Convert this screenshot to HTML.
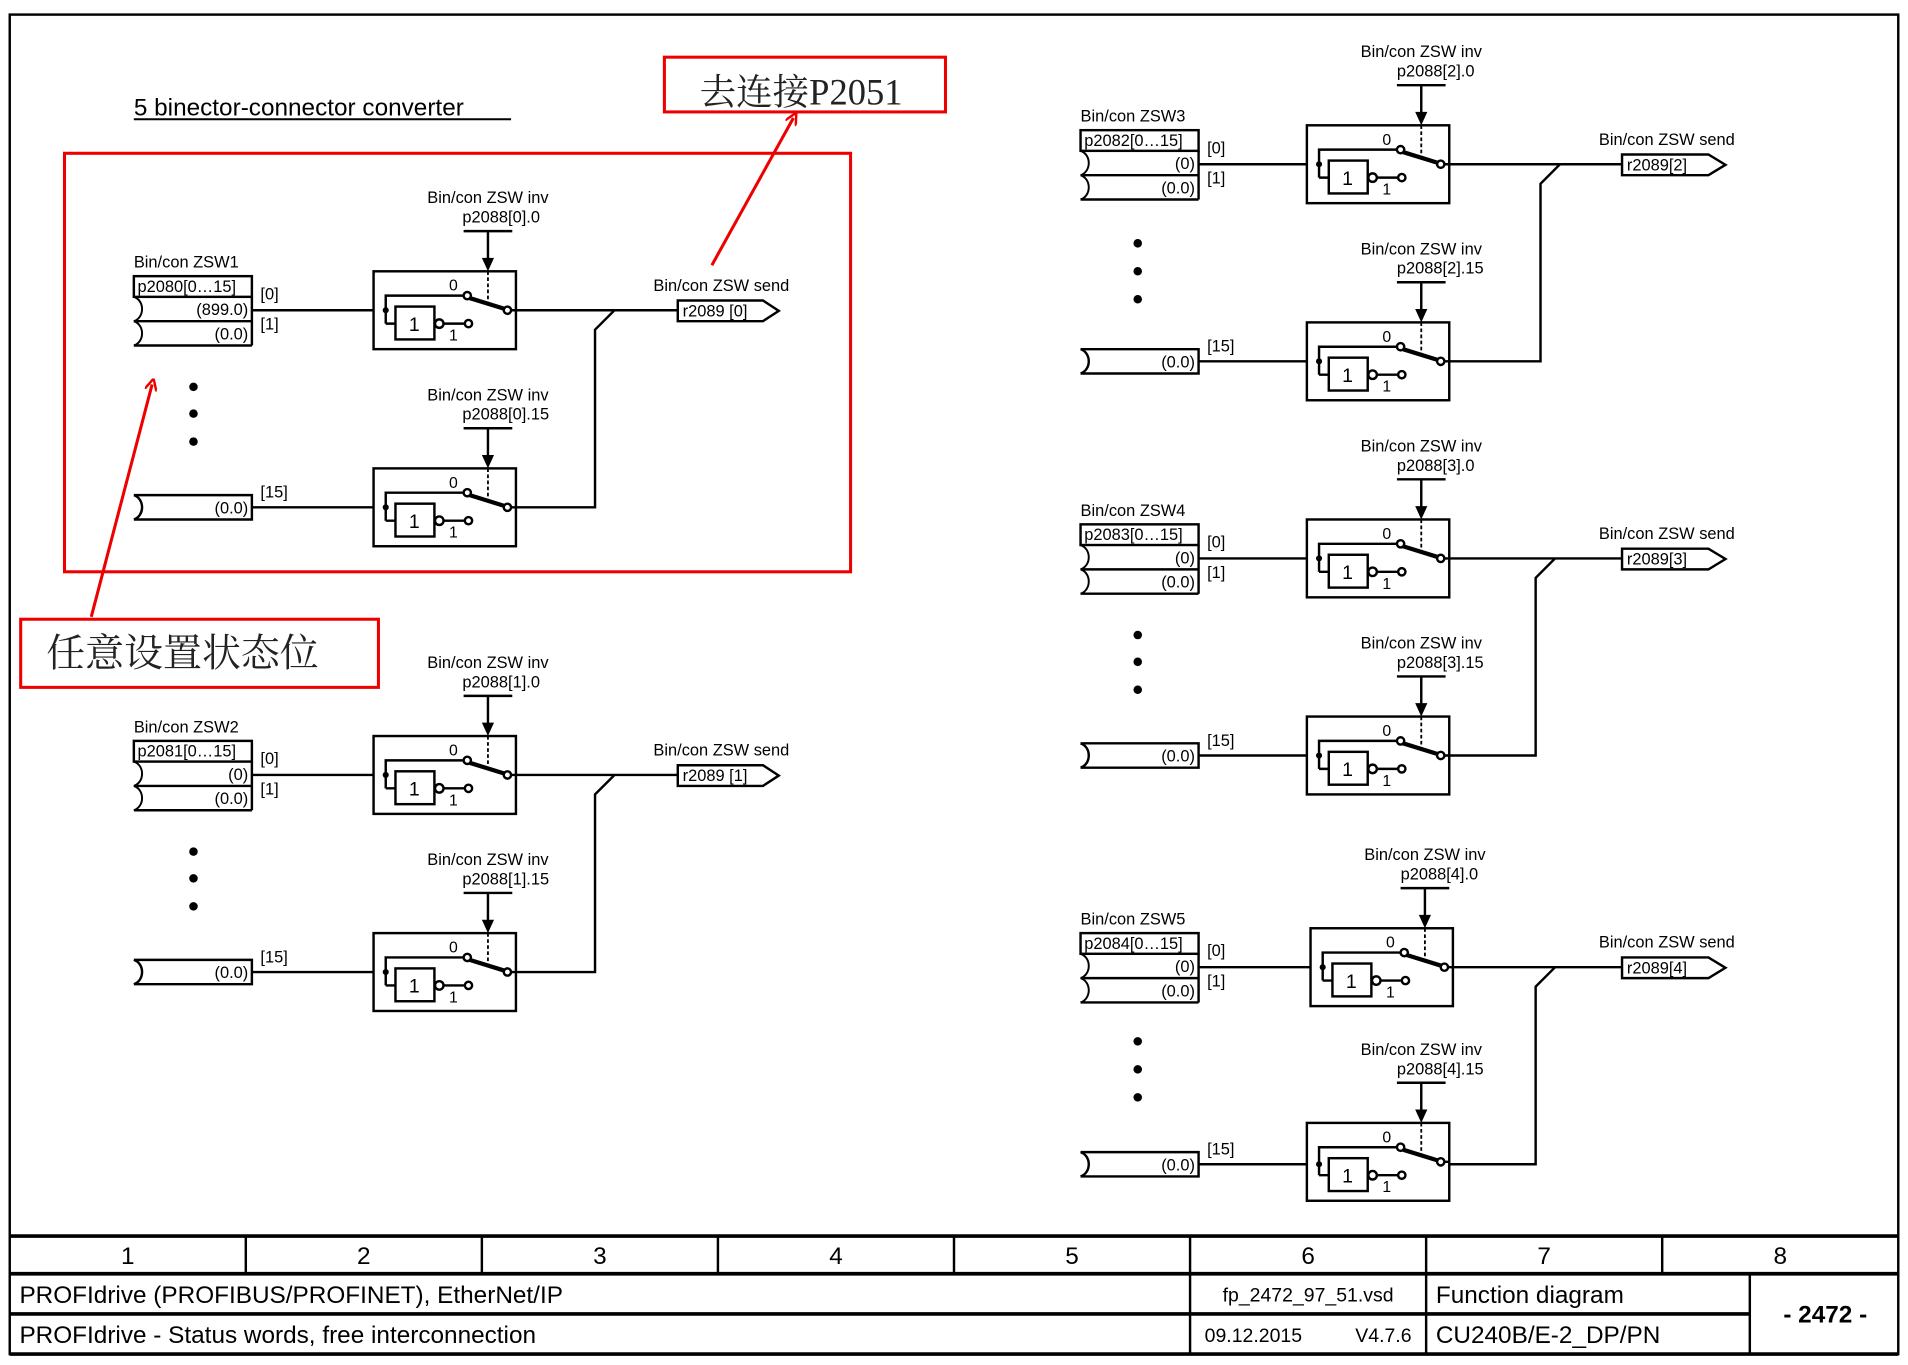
<!DOCTYPE html>
<html><head><meta charset="utf-8"><style>
html,body{margin:0;padding:0;background:#fff;}
svg{display:block;}
text{font-family:"Liberation Sans",sans-serif;fill:#000;}
.s{font-size:13.5px;}
.r{font-size:13.5px;text-anchor:end;}
.cj{font-family:"Liberation Serif","Noto Serif CJK SC",serif;fill:#222;}
</style></head><body>
<svg width="1908" height="1365" viewBox="0 0 1568 1122" preserveAspectRatio="none" xmlns="http://www.w3.org/2000/svg">
<defs>
<marker id="ah" markerWidth="10" markerHeight="10" refX="5" refY="5" orient="auto" markerUnits="userSpaceOnUse"><path d="M0,0 L10,5 L0,10" fill="none" stroke="#e00" stroke-width="2"/></marker>
</defs>
<g fill="none" stroke="#000" stroke-width="2">
<rect x="8" y="12" width="1552" height="1101"/>
</g>

<!-- title -->
<text x="110" y="95" style="font-size:20px">5 binector-connector converter</text>
<line x1="110" y1="98" x2="420" y2="98" stroke="#000" stroke-width="1.6"/>

<!-- ===== Module macro expanded ===== -->
<!-- M1 ix=110 iy=227 sx=307 mx=489 ox=557 -->
<g id="m1">
<text class="s" x="110" y="220">Bin/con ZSW1</text>
<g transform="translate(110,227)" fill="none" stroke="#000" stroke-width="2">
<rect x="0" y="0" width="97" height="17"/>
<path d="M0,37 H97 M0,57 H97 M97,17 V57"/>
<path d="M0,17 C9,20 9,34 0,37 M0,37 C9,40 9,54 0,57" stroke-width="1.6"/>
</g>
<text class="s" x="113" y="240">p2080[0…15]</text>
<text class="r" x="204" y="259">(899.0)</text>
<text class="r" x="204" y="279">(0.0)</text>
<text class="s" x="214" y="246">[0]</text>
<text class="s" x="214" y="271">[1]</text>
<circle cx="159" cy="318" r="3.5"/><circle cx="159" cy="340" r="3.5"/><circle cx="159" cy="363" r="3.5"/>
<g fill="none" stroke="#000" stroke-width="2">
<path d="M110,407 H207 V427 H110 M110,407 C119,410 119,424 110,427" />
<path d="M207,255 H307 M207,417 H307 M424,255 H557 M505,255 L489,271 V417 H424"/>
<path d="M557,247 H627 L640,255.5 L627,264 H557 Z"/>
</g>
<text class="r" x="204" y="422">(0.0)</text>
<text class="s" x="214" y="409">[15]</text>
<text class="s" x="561" y="260">r2089 [0]</text>
<text class="s" x="537" y="239">Bin/con ZSW send</text>
</g>

<!-- switch template used repeatedly -->
<g transform="translate(307,223)">
<g fill="none" stroke="#000" stroke-width="2"><rect x="0" y="0" width="117" height="64"/>
<path d="M10,43 V20 H74 M10,43 H18 M57,43 H75 M113,32 H117 M74,-33 H114 M94,-33 V-9"/>
<rect x="18" y="29" width="32" height="27"/>
<circle cx="54" cy="43" r="3.5"/><circle cx="77" cy="20" r="3"/><circle cx="78" cy="43" r="3"/><circle cx="110" cy="32" r="3"/>
<path d="M79,22 L108,31" stroke-width="3.5"/>
<path d="M94,0 V26" stroke-width="1.5" stroke-dasharray="3,2"/></g>
<circle cx="10" cy="32" r="2.5"/><path d="M94,0 L89,-11 L99,-11 Z"/>
<text x="29" y="49" style="font-size:16px">1</text><text x="62" y="16" style="font-size:13px">0</text><text x="62" y="57" style="font-size:13px">1</text>
<text class="s" x="94" y="-56" text-anchor="middle">Bin/con ZSW inv</text><text class="s" x="73" y="-40">p2088[0].0</text>
</g>
<g transform="translate(307,385)">
<g fill="none" stroke="#000" stroke-width="2"><rect x="0" y="0" width="117" height="64"/>
<path d="M10,43 V20 H74 M10,43 H18 M57,43 H75 M113,32 H117 M74,-33 H114 M94,-33 V-9"/>
<rect x="18" y="29" width="32" height="27"/>
<circle cx="54" cy="43" r="3.5"/><circle cx="77" cy="20" r="3"/><circle cx="78" cy="43" r="3"/><circle cx="110" cy="32" r="3"/>
<path d="M79,22 L108,31" stroke-width="3.5"/>
<path d="M94,0 V26" stroke-width="1.5" stroke-dasharray="3,2"/></g>
<circle cx="10" cy="32" r="2.5"/><path d="M94,0 L89,-11 L99,-11 Z"/>
<text x="29" y="49" style="font-size:16px">1</text><text x="62" y="16" style="font-size:13px">0</text><text x="62" y="57" style="font-size:13px">1</text>
<text class="s" x="94" y="-56" text-anchor="middle">Bin/con ZSW inv</text><text class="s" x="73" y="-40">p2088[0].15</text>
</g>

<!-- M2 iy=609 -->
<g transform="translate(0,382)">
<text class="s" x="110" y="220">Bin/con ZSW2</text>
<g transform="translate(110,227)" fill="none" stroke="#000" stroke-width="2">
<rect x="0" y="0" width="97" height="17"/>
<path d="M0,37 H97 M0,57 H97 M97,17 V57"/>
<path d="M0,17 C9,20 9,34 0,37 M0,37 C9,40 9,54 0,57" stroke-width="1.6"/>
</g>
<text class="s" x="113" y="240">p2081[0…15]</text>
<text class="r" x="204" y="259">(0)</text>
<text class="r" x="204" y="279">(0.0)</text>
<text class="s" x="214" y="246">[0]</text>
<text class="s" x="214" y="271">[1]</text>
<circle cx="159" cy="318" r="3.5"/><circle cx="159" cy="340" r="3.5"/><circle cx="159" cy="363" r="3.5"/>
<g fill="none" stroke="#000" stroke-width="2">
<path d="M110,407 H207 V427 H110 M110,407 C119,410 119,424 110,427" />
<path d="M207,255 H307 M207,417 H307 M424,255 H557 M505,255 L489,271 V417 H424"/>
<path d="M557,247 H627 L640,255.5 L627,264 H557 Z"/>
</g>
<text class="r" x="204" y="422">(0.0)</text>
<text class="s" x="214" y="409">[15]</text>
<text class="s" x="561" y="260">r2089 [1]</text>
<text class="s" x="537" y="239">Bin/con ZSW send</text>
<g transform="translate(307,223)">
<g fill="none" stroke="#000" stroke-width="2"><rect x="0" y="0" width="117" height="64"/>
<path d="M10,43 V20 H74 M10,43 H18 M57,43 H75 M113,32 H117 M74,-33 H114 M94,-33 V-9"/>
<rect x="18" y="29" width="32" height="27"/>
<circle cx="54" cy="43" r="3.5"/><circle cx="77" cy="20" r="3"/><circle cx="78" cy="43" r="3"/><circle cx="110" cy="32" r="3"/>
<path d="M79,22 L108,31" stroke-width="3.5"/>
<path d="M94,0 V26" stroke-width="1.5" stroke-dasharray="3,2"/></g>
<circle cx="10" cy="32" r="2.5"/><path d="M94,0 L89,-11 L99,-11 Z"/>
<text x="29" y="49" style="font-size:16px">1</text><text x="62" y="16" style="font-size:13px">0</text><text x="62" y="57" style="font-size:13px">1</text>
<text class="s" x="94" y="-56" text-anchor="middle">Bin/con ZSW inv</text><text class="s" x="73" y="-40">p2088[1].0</text>
</g>
<g transform="translate(307,385)">
<g fill="none" stroke="#000" stroke-width="2"><rect x="0" y="0" width="117" height="64"/>
<path d="M10,43 V20 H74 M10,43 H18 M57,43 H75 M113,32 H117 M74,-33 H114 M94,-33 V-9"/>
<rect x="18" y="29" width="32" height="27"/>
<circle cx="54" cy="43" r="3.5"/><circle cx="77" cy="20" r="3"/><circle cx="78" cy="43" r="3"/><circle cx="110" cy="32" r="3"/>
<path d="M79,22 L108,31" stroke-width="3.5"/>
<path d="M94,0 V26" stroke-width="1.5" stroke-dasharray="3,2"/></g>
<circle cx="10" cy="32" r="2.5"/><path d="M94,0 L89,-11 L99,-11 Z"/>
<text x="29" y="49" style="font-size:16px">1</text><text x="62" y="16" style="font-size:13px">0</text><text x="62" y="57" style="font-size:13px">1</text>
<text class="s" x="94" y="-56" text-anchor="middle">Bin/con ZSW inv</text><text class="s" x="73" y="-40">p2088[1].15</text>
</g>
</g>

<!-- Right modules: shift dx=778 for inputs; switches at 1074 -->
<!-- M3 dy=-120 -->
<g transform="translate(778,-120)">
<text class="s" x="110" y="220">Bin/con ZSW3</text>
<g transform="translate(110,227)" fill="none" stroke="#000" stroke-width="2">
<rect x="0" y="0" width="97" height="17"/>
<path d="M0,37 H97 M0,57 H97 M97,17 V57"/>
<path d="M0,17 C9,20 9,34 0,37 M0,37 C9,40 9,54 0,57" stroke-width="1.6"/>
</g>
<text class="s" x="113" y="240">p2082[0…15]</text>
<text class="r" x="204" y="259">(0)</text>
<text class="r" x="204" y="279">(0.0)</text>
<text class="s" x="214" y="246">[0]</text>
<text class="s" x="214" y="271">[1]</text>
<circle cx="157" cy="320" r="3.5"/><circle cx="157" cy="343" r="3.5"/><circle cx="157" cy="366" r="3.5"/>
<g fill="none" stroke="#000" stroke-width="2">
<path d="M110,407 H207 V427 H110 M110,407 C119,410 119,424 110,427" />
<path d="M207,255 H296 M207,417 H296 M413,255 H555 M504,255 L488,271 V417 H413"/>
<path d="M555,247 H626 L640,255.5 L626,264 H555 Z"/>
</g>
<text class="r" x="204" y="422">(0.0)</text>
<text class="s" x="214" y="409">[15]</text>
<text class="s" x="559" y="260">r2089[2]</text>
<text class="s" x="536" y="239">Bin/con ZSW send</text>
<g transform="translate(296,223)">
<g fill="none" stroke="#000" stroke-width="2"><rect x="0" y="0" width="117" height="64"/>
<path d="M10,43 V20 H74 M10,43 H18 M57,43 H75 M113,32 H117 M74,-33 H114 M94,-33 V-9"/>
<rect x="18" y="29" width="32" height="27"/>
<circle cx="54" cy="43" r="3.5"/><circle cx="77" cy="20" r="3"/><circle cx="78" cy="43" r="3"/><circle cx="110" cy="32" r="3"/>
<path d="M79,22 L108,31" stroke-width="3.5"/>
<path d="M94,0 V26" stroke-width="1.5" stroke-dasharray="3,2"/></g>
<circle cx="10" cy="32" r="2.5"/><path d="M94,0 L89,-11 L99,-11 Z"/>
<text x="29" y="49" style="font-size:16px">1</text><text x="62" y="16" style="font-size:13px">0</text><text x="62" y="57" style="font-size:13px">1</text>
<text class="s" x="94" y="-56" text-anchor="middle">Bin/con ZSW inv</text><text class="s" x="74" y="-40">p2088[2].0</text>
</g>
<g transform="translate(296,385)">
<g fill="none" stroke="#000" stroke-width="2"><rect x="0" y="0" width="117" height="64"/>
<path d="M10,43 V20 H74 M10,43 H18 M57,43 H75 M113,32 H117 M74,-33 H114 M94,-33 V-9"/>
<rect x="18" y="29" width="32" height="27"/>
<circle cx="54" cy="43" r="3.5"/><circle cx="77" cy="20" r="3"/><circle cx="78" cy="43" r="3"/><circle cx="110" cy="32" r="3"/>
<path d="M79,22 L108,31" stroke-width="3.5"/>
<path d="M94,0 V26" stroke-width="1.5" stroke-dasharray="3,2"/></g>
<circle cx="10" cy="32" r="2.5"/><path d="M94,0 L89,-11 L99,-11 Z"/>
<text x="29" y="49" style="font-size:16px">1</text><text x="62" y="16" style="font-size:13px">0</text><text x="62" y="57" style="font-size:13px">1</text>
<text class="s" x="94" y="-56" text-anchor="middle">Bin/con ZSW inv</text><text class="s" x="74" y="-40">p2088[2].15</text>
</g>
</g>

<!-- M4 dy=+204 -->
<g transform="translate(778,204)">
<text class="s" x="110" y="220">Bin/con ZSW4</text>
<g transform="translate(110,227)" fill="none" stroke="#000" stroke-width="2">
<rect x="0" y="0" width="97" height="17"/>
<path d="M0,37 H97 M0,57 H97 M97,17 V57"/>
<path d="M0,17 C9,20 9,34 0,37 M0,37 C9,40 9,54 0,57" stroke-width="1.6"/>
</g>
<text class="s" x="113" y="240">p2083[0…15]</text>
<text class="r" x="204" y="259">(0)</text>
<text class="r" x="204" y="279">(0.0)</text>
<text class="s" x="214" y="246">[0]</text>
<text class="s" x="214" y="271">[1]</text>
<circle cx="157" cy="318" r="3.5"/><circle cx="157" cy="340" r="3.5"/><circle cx="157" cy="363" r="3.5"/>
<g fill="none" stroke="#000" stroke-width="2">
<path d="M110,407 H207 V427 H110 M110,407 C119,410 119,424 110,427" />
<path d="M207,255 H296 M207,417 H296 M413,255 H555 M500,255 L484,271 V417 H413"/>
<path d="M555,247 H626 L640,255.5 L626,264 H555 Z"/>
</g>
<text class="r" x="204" y="422">(0.0)</text>
<text class="s" x="214" y="409">[15]</text>
<text class="s" x="559" y="260">r2089[3]</text>
<text class="s" x="536" y="239">Bin/con ZSW send</text>
<g transform="translate(296,223)">
<g fill="none" stroke="#000" stroke-width="2"><rect x="0" y="0" width="117" height="64"/>
<path d="M10,43 V20 H74 M10,43 H18 M57,43 H75 M113,32 H117 M74,-33 H114 M94,-33 V-9"/>
<rect x="18" y="29" width="32" height="27"/>
<circle cx="54" cy="43" r="3.5"/><circle cx="77" cy="20" r="3"/><circle cx="78" cy="43" r="3"/><circle cx="110" cy="32" r="3"/>
<path d="M79,22 L108,31" stroke-width="3.5"/>
<path d="M94,0 V26" stroke-width="1.5" stroke-dasharray="3,2"/></g>
<circle cx="10" cy="32" r="2.5"/><path d="M94,0 L89,-11 L99,-11 Z"/>
<text x="29" y="49" style="font-size:16px">1</text><text x="62" y="16" style="font-size:13px">0</text><text x="62" y="57" style="font-size:13px">1</text>
<text class="s" x="94" y="-56" text-anchor="middle">Bin/con ZSW inv</text><text class="s" x="74" y="-40">p2088[3].0</text>
</g>
<g transform="translate(296,385)">
<g fill="none" stroke="#000" stroke-width="2"><rect x="0" y="0" width="117" height="64"/>
<path d="M10,43 V20 H74 M10,43 H18 M57,43 H75 M113,32 H117 M74,-33 H114 M94,-33 V-9"/>
<rect x="18" y="29" width="32" height="27"/>
<circle cx="54" cy="43" r="3.5"/><circle cx="77" cy="20" r="3"/><circle cx="78" cy="43" r="3"/><circle cx="110" cy="32" r="3"/>
<path d="M79,22 L108,31" stroke-width="3.5"/>
<path d="M94,0 V26" stroke-width="1.5" stroke-dasharray="3,2"/></g>
<circle cx="10" cy="32" r="2.5"/><path d="M94,0 L89,-11 L99,-11 Z"/>
<text x="29" y="49" style="font-size:16px">1</text><text x="62" y="16" style="font-size:13px">0</text><text x="62" y="57" style="font-size:13px">1</text>
<text class="s" x="94" y="-56" text-anchor="middle">Bin/con ZSW inv</text><text class="s" x="74" y="-40">p2088[3].15</text>
</g>
</g>

<!-- M5 dy=+540 -->
<g transform="translate(778,540)">
<text class="s" x="110" y="220">Bin/con ZSW5</text>
<g transform="translate(110,227)" fill="none" stroke="#000" stroke-width="2">
<rect x="0" y="0" width="97" height="17"/>
<path d="M0,37 H97 M0,57 H97 M97,17 V57"/>
<path d="M0,17 C9,20 9,34 0,37 M0,37 C9,40 9,54 0,57" stroke-width="1.6"/>
</g>
<text class="s" x="113" y="240">p2084[0…15]</text>
<text class="r" x="204" y="259">(0)</text>
<text class="r" x="204" y="279">(0.0)</text>
<text class="s" x="214" y="246">[0]</text>
<text class="s" x="214" y="271">[1]</text>
<circle cx="157" cy="316" r="3.5"/><circle cx="157" cy="339" r="3.5"/><circle cx="157" cy="362" r="3.5"/>
<g fill="none" stroke="#000" stroke-width="2">
<path d="M110,407 H207 V427 H110 M110,407 C119,410 119,424 110,427" />
<path d="M207,255 H299 M207,417 H296 M416,255 H555 M500,255 L484,271 V417 H413"/>
<path d="M555,247 H626 L640,255.5 L626,264 H555 Z"/>
</g>
<text class="r" x="204" y="422">(0.0)</text>
<text class="s" x="214" y="409">[15]</text>
<text class="s" x="559" y="260">r2089[4]</text>
<text class="s" x="536" y="239">Bin/con ZSW send</text>
<g transform="translate(299,223)">
<g fill="none" stroke="#000" stroke-width="2"><rect x="0" y="0" width="117" height="64"/>
<path d="M10,43 V20 H74 M10,43 H18 M57,43 H75 M113,32 H117 M74,-33 H114 M94,-33 V-9"/>
<rect x="18" y="29" width="32" height="27"/>
<circle cx="54" cy="43" r="3.5"/><circle cx="77" cy="20" r="3"/><circle cx="78" cy="43" r="3"/><circle cx="110" cy="32" r="3"/>
<path d="M79,22 L108,31" stroke-width="3.5"/>
<path d="M94,0 V26" stroke-width="1.5" stroke-dasharray="3,2"/></g>
<circle cx="10" cy="32" r="2.5"/><path d="M94,0 L89,-11 L99,-11 Z"/>
<text x="29" y="49" style="font-size:16px">1</text><text x="62" y="16" style="font-size:13px">0</text><text x="62" y="57" style="font-size:13px">1</text>
<text class="s" x="94" y="-56" text-anchor="middle">Bin/con ZSW inv</text><text class="s" x="74" y="-40">p2088[4].0</text>
</g>
<g transform="translate(296,383)">
<g fill="none" stroke="#000" stroke-width="2"><rect x="0" y="0" width="117" height="64"/>
<path d="M10,43 V20 H74 M10,43 H18 M57,43 H75 M113,32 H117 M74,-33 H114 M94,-33 V-9"/>
<rect x="18" y="29" width="32" height="27"/>
<circle cx="54" cy="43" r="3.5"/><circle cx="77" cy="20" r="3"/><circle cx="78" cy="43" r="3"/><circle cx="110" cy="32" r="3"/>
<path d="M79,22 L108,31" stroke-width="3.5"/>
<path d="M94,0 V26" stroke-width="1.5" stroke-dasharray="3,2"/></g>
<circle cx="10" cy="34" r="2.5"/><path d="M94,0 L89,-11 L99,-11 Z"/>
<text x="29" y="49" style="font-size:16px">1</text><text x="62" y="16" style="font-size:13px">0</text><text x="62" y="57" style="font-size:13px">1</text>
<text class="s" x="94" y="-56" text-anchor="middle">Bin/con ZSW inv</text><text class="s" x="74" y="-40">p2088[4].15</text>
</g>
</g>

<!-- red annotations -->
<g fill="none" stroke="#e00" stroke-width="2.5">
<rect x="53" y="126" width="646" height="344"/>
<rect x="546" y="47" width="231" height="45"/>
<rect x="17" y="509" width="294" height="56"/>
<line x1="585" y1="218" x2="652" y2="97" marker-end="url(#ah)"/>
<line x1="75" y1="507" x2="125" y2="316" marker-end="url(#ah)"/>
</g>
<text class="cj" x="575" y="86" style="font-size:30px">去连接P2051</text>
<text class="cj" x="38" y="548" style="font-size:32px">任意设置状态位</text>

<!-- table -->
<g fill="none" stroke="#000">
<path d="M8,1016 H1560 M8,1047 H1560 M8,1080 H1438 M8,1113 H1560" stroke-width="3"/>
<path d="M202,1016 V1047 M396,1016 V1047 M590,1016 V1047 M784,1016 V1047 M1366,1016 V1047 M978,1016 V1113 M1172,1016 V1113 M1438,1047 V1113" stroke-width="2"/>
</g>
<g style="font-size:20px" text-anchor="middle">
<text x="105" y="1039">1</text><text x="299" y="1039">2</text><text x="493" y="1039">3</text><text x="687" y="1039">4</text><text x="881" y="1039">5</text><text x="1075" y="1039">6</text><text x="1269" y="1039">7</text><text x="1463" y="1039">8</text>
</g>
<text x="16" y="1071" style="font-size:20px">PROFIdrive (PROFIBUS/PROFINET), EtherNet/IP</text>
<text x="16" y="1104" style="font-size:20px">PROFIdrive - Status words, free interconnection</text>
<text x="1075" y="1070" style="font-size:16px" text-anchor="middle">fp_2472_97_51.vsd</text>
<text x="990" y="1103" style="font-size:16px">09.12.2015</text>
<text x="1160" y="1103" style="font-size:16px" text-anchor="end">V4.7.6</text>
<text x="1180" y="1071" style="font-size:20px">Function diagram</text>
<text x="1180" y="1104" style="font-size:20px">CU240B/E-2_DP/PN</text>
<text x="1500" y="1087" style="font-size:20px;font-weight:bold" text-anchor="middle">- 2472 -</text>
</svg>
</body></html>
